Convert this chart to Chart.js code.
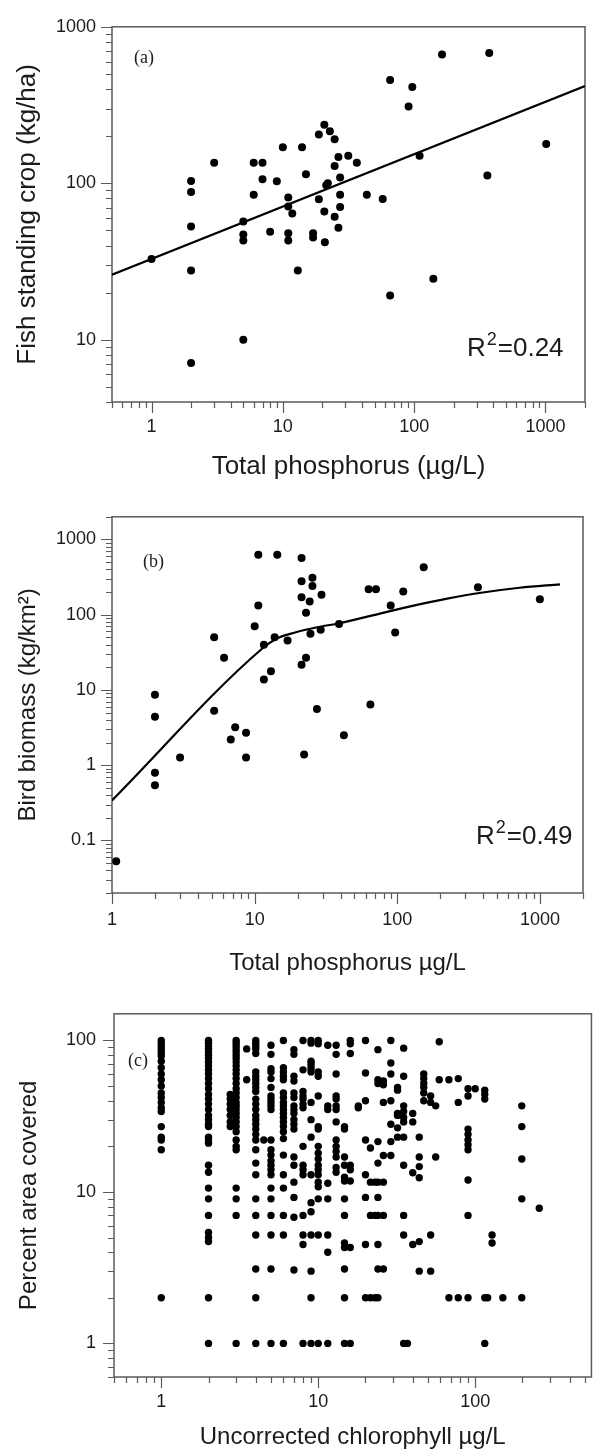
<!DOCTYPE html>
<html><head><meta charset="utf-8">
<script src="https://cdn.jsdelivr.net/npm/chart.js@4.4.0/dist/chart.umd.min.js"></script>
<style>
html,body{margin:0;padding:0;background:#fff;width:599px;height:1450px;overflow:hidden}
canvas{position:absolute;left:0}
</style></head><body>
<canvas id="ca" width="599" height="490" style="top:0px"></canvas>
<canvas id="cb" width="599" height="495" style="top:490px"></canvas>
<canvas id="cc" width="599" height="465" style="top:985px"></canvas>
<script>
// ---------- Panel (a): fish standing crop vs total phosphorus ----------
const aPhosphorus = [1, 2,2,2,2,2, 3, 5,5,5,5, 6,6, 7,7, 8, 9, 10, 11,11,11,11, 11.8, 13, 14, 15, 17,17, 18.8,18.8, 20.7,20.7,20.9, 21.4,22, 22.8, 24.8,24.8,24.8, 26.5,26.5, 27.3,27.3,27.3, 31.5, 36.6, 43.6, 57.6, 65.6,65.6, 90.7, 96.8, 110, 140, 163, 361, 373, 1013];
const aFishCrop   = [32.8, 103.5,88,53,27.7,7.1, 135, 57,47,43,10, 135,84.5, 135,106, 49, 103, 170, 81,71,48,43, 64, 27.7, 170, 114, 48,45, 205,79, 237,66,42, 97,100, 215, 191,129,61, 147,52, 109,84.5,70.5, 150, 135, 84.5, 79.4, 457,19.2, 309, 412, 150, 24.5, 665, 112, 681, 178];
const aFitX = [0.5, 2000];
const aFitY = [26, 418];
const aXTicks = [1, 10, 100, 1000];
const aXTickLabels = ['1', '10', '100', '1000'];
const aYTicks = [10, 100, 1000];
const aYTickLabels = ['10', '100', '1000'];

// ---------- Panel (b): bird biomass vs total phosphorus ----------
const bPhosphorus = [1.07, 2,2,2,2, 3, 5.2,5.2, 6.1, 6.8, 7.3, 8.7,8.7, 10, 10.6,10.6, 11.6,11.6, 13, 13.8, 14.4, 17, 21.3,21.3,21.3,21.3, 22.2, 22.9,22.9, 24.3, 24.6, 25.4,25.4, 27.3, 29, 29.4, 39, 42.2, 62.9, 64.7, 70.8, 89.8, 96.5, 110, 153, 367, 997];
const bBirdBiomass = [0.053, 8.6,4.4,0.79,0.54, 1.26, 50,5.3, 26.8, 2.2, 3.2, 2.7,1.26, 70, 625,132, 40,13.8, 17.7, 50, 625, 45.5, 566,279,171,21.6, 1.39, 106,26.8, 150, 55.6, 309,240, 5.6, 63, 184, 75, 2.5, 218, 6.4, 218, 132, 58, 203, 428, 231, 161];
const bFitX = [1, 11.2, 14.2, 19.2, 27.4, 39, 67, 121, 219, 397, 719, 1380];
const bFitY = [0.34, 35, 48, 58, 68, 77, 98, 128, 162, 197, 228, 253];
const bXTicks = [1, 10, 100, 1000];
const bXTickLabels = ['1', '10', '100', '1000'];
const bYTicks = [0.1, 1, 10, 100, 1000];
const bYTickLabels = ['0.1', '1', '10', '100', '1000'];

// ---------- Panel (c): percent area covered vs chlorophyll (grouped by chlorophyll value) ----------
const cChlorophyll = [1, 2, 2.75, 3, 3.5, 4, 4.5, 5, 6, 7, 8, 9, 10, 11.5, 13, 14.7, 16, 18, 20, 21.5, 23, 24, 26, 29, 32, 35, 37, 40, 44, 47, 52, 56, 59, 68, 78, 90, 100, 115, 120, 128, 150, 198, 256];
const cPercentCover = [
  [100, 95, 91, 87, 83, 79, 73, 66, 60, 55, 50, 45, 42, 39, 36, 34, 27, 23, 22, 19, 2],
  [100, 96, 92, 88, 84, 80, 76, 72, 68, 64, 60, 56, 52, 48, 44, 41, 38, 35, 32, 30, 28, 27, 23, 22, 21, 15, 13.5, 10.6, 9, 7, 5.4, 5, 4.7, 2, 1],
  [44, 41, 38, 35, 32, 29, 27],
  [100, 96, 92, 88, 84, 80, 76, 72, 68, 64, 60, 56, 52, 48, 45, 42, 39, 37, 35, 33, 31, 29, 27, 25, 22, 20, 19, 10.6, 9, 7, 1],
  [88, 55],
  [100, 96, 92, 88, 82, 62, 58, 55, 52, 49, 46, 41, 38, 35, 32, 30, 28, 26, 24, 22, 19, 15.5, 13, 9, 7, 5.2, 3.1, 2, 1],
  [22],
  [93, 81, 65, 62, 56, 49, 43, 41, 39, 37, 35, 22, 19, 17.5, 16, 15, 14, 13, 10.6, 9, 7, 5.2, 3.1, 1],
  [100, 66, 62, 58, 55, 45, 42, 39, 37, 35, 33, 31, 29, 27, 25, 22.5, 17.5, 13, 10.6, 7, 5.2, 1],
  [87, 81, 58, 54, 45, 42, 37, 35, 33, 30, 28, 26, 17, 15, 11.6, 9.2, 6.8, 3.05],
  [100, 64, 46, 43, 41, 38, 36, 20, 15, 14, 13, 7, 5.2, 4.5, 1],
  [100, 96, 73, 71, 68, 65, 62, 39, 30, 23, 13, 8.5, 7.4, 5.2, 3, 2, 1],
  [100, 95, 62, 58, 43, 27, 26, 20, 18, 16.5, 15, 14, 13, 11.6, 10.8, 9, 5.2, 1],
  [93, 37, 35, 11.4, 9, 5.2, 4, 1],
  [93, 81, 60, 43, 41, 37, 35, 29, 22, 20, 18.5, 17, 14.5, 13.5],
  [27, 26, 17, 15, 12.5, 11.8, 9, 7, 4.6, 4.3, 3.1, 2, 1],
  [100, 95, 82, 15, 14, 11.8, 4.3, 1],
  [37, 36],
  [100, 61, 40, 22, 13, 9.2, 4.5, 2],
  [19.5, 11.6, 7, 2],
  [11.6, 7, 2],
  [87, 55, 52, 21.5, 15.5, 11.6, 9.2, 7, 4.5, 3.1, 2],
  [54, 51, 39, 17.4, 11.6, 7, 3.1],
  [100, 71, 60, 40, 28, 21.5, 17.4],
  [49, 47, 33, 32, 26.5, 23],
  [89, 58, 37, 34, 31, 29, 23, 15, 7, 5.2, 1],
  [1],
  [33, 29, 13.4, 4.5],
  [23, 17, 14.7, 12.4, 4.7, 3],
  [60, 56, 52, 49, 45, 40],
  [43, 39, 5.2, 3],
  [37, 17],
  [98, 55],
  [55, 2],
  [56, 39, 2],
  [48, 43, 26, 24, 22, 20.5, 19, 12, 7, 2],
  [48],
  [47, 44, 41, 2, 1],
  [2],
  [5.2, 4.6],
  [2],
  [37, 27, 16.5, 9, 2],
  [7.8]
];
const cXTicks = [1, 10, 100];
const cXTickLabels = ['1', '10', '100'];
const cYTicks = [1, 10, 100];
const cYTickLabels = ['1', '10', '100'];

const panelLabels = ['(a)', '(b)', '(c)'];
const r2Values = ['0.24', '0.49'];

// ---------- helpers ----------
const SANS = "'Liberation Sans', Arial, Helvetica, sans-serif";
const SERIF = "'Liberation Serif', 'Times New Roman', serif";
const TEXT = '#1b1b1b';
const AXIS = '#5a5a5a';

function pts(xs, ys) { return xs.map((x, i) => ({x: x, y: ys[i]})); }
function logTicks(min, max) {
  const out = [];
  for (let d = Math.floor(Math.log10(min)); d <= Math.ceil(Math.log10(max)); d++) {
    for (let k = 1; k <= 9; k++) {
      const v = k * Math.pow(10, d);
      if (v >= min * (1 - 1e-9) && v <= max * (1 + 1e-9)) out.push(v);
    }
  }
  return out;
}
function isDecade(v) { const l = Math.log10(v); return Math.abs(l - Math.round(l)) < 1e-9; }
function labelFor(v, majors, labels) {
  for (let i = 0; i < majors.length; i++) if (Math.abs(v - majors[i]) / majors[i] < 1e-6) return labels[i];
  return '';
}

const decoPlugin = {
  id: 'deco',
  beforeDatasetsDraw(chart) {
    const {ctx, chartArea: a} = chart;
    ctx.save();
    ctx.strokeStyle = AXIS; ctx.lineWidth = 1.5;
    ctx.strokeRect(a.left, a.top, a.right - a.left, a.bottom - a.top);
    const xs = chart.scales.x, ys = chart.scales.y;
    ctx.lineWidth = 1.2;
    ctx.beginPath();
    xs.ticks.forEach(t => {
      const p = Math.round(xs.getPixelForValue(t.value)) + 0.5;
      const L = isDecade(t.value) ? 11 : 6;
      ctx.moveTo(p, a.bottom); ctx.lineTo(p, a.bottom + L);
    });
    ys.ticks.forEach(t => {
      const p = Math.round(ys.getPixelForValue(t.value)) + 0.5;
      const L = isDecade(t.value) ? 11 : 6;
      ctx.moveTo(a.left, p); ctx.lineTo(a.left - L, p);
    });
    ctx.stroke();
    ctx.restore();
  },
  afterDraw(chart, args, opts) {
    const ctx = chart.ctx;
    ctx.save();
    ctx.fillStyle = TEXT;
    ctx.textAlign = 'left';
    ctx.textBaseline = 'alphabetic';
    if (opts.label) {
      ctx.font = `18px ${SERIF}`;
      ctx.fillText(opts.label.text, opts.label.x, opts.label.y);
    }
    if (opts.r2) {
      const {x, y, text} = opts.r2;
      ctx.font = `26px ${SANS}`;
      ctx.fillText('R', x, y);
      const w = ctx.measureText('R').width;
      ctx.font = `18px ${SANS}`;
      ctx.fillText('2', x + w + 1, y - 11);
      const w2 = ctx.measureText('2').width;
      ctx.font = `26px ${SANS}`;
      ctx.fillText('=' + text, x + w + w2 + 2, y);
    }
    ctx.restore();
  }
};

function makeChart(id, c) {
  const canvas = document.getElementById(id);
  const H = canvas.height;
  return new Chart(canvas, {
    type: 'scatter',
    data: {datasets: c.datasets},
    options: {
      responsive: false,
      animation: false,
      devicePixelRatio: 1,
      layout: {padding: {top: c.top, right: 599 - c.right, bottom: 0, left: 0}},
      plugins: {legend: {display: false}, tooltip: {enabled: false}, deco: c.deco},
      scales: {
        x: {
          type: 'logarithmic', position: 'bottom', min: c.xMin, max: c.xMax,
          afterFit: s => { s.height = H - c.bottom; },
          afterBuildTicks: s => { s.ticks = logTicks(c.xMin, c.xMax).map(v => ({value: v, major: isDecade(v)})); },
          grid: {display: false, drawTicks: false, drawOnChartArea: false},
          border: {display: false},
          ticks: {autoSkip: false, maxRotation: 0, minRotation: 0, padding: c.xTickPad, color: TEXT,
                  font: {family: SANS, size: c.tickSize},
                  callback: v => labelFor(v, c.xMajors, c.xLabels)},
          title: {display: true, text: c.xTitle, color: TEXT,
                  font: {family: SANS, size: c.xTitleSize, lineHeight: 1},
                  padding: {top: 0, bottom: c.xTitlePad}}
        },
        y: {
          type: 'logarithmic', position: 'left', min: c.yMin, max: c.yMax,
          afterFit: s => { s.width = c.left; },
          afterBuildTicks: s => { s.ticks = logTicks(c.yMin, c.yMax).map(v => ({value: v, major: isDecade(v)})); },
          grid: {display: false, drawTicks: false, drawOnChartArea: false},
          border: {display: false},
          ticks: {autoSkip: false, padding: c.yTickPad, color: TEXT,
                  font: {family: SANS, size: c.tickSize},
                  callback: v => labelFor(v, c.yMajors, c.yLabels)},
          title: {display: true, text: c.yTitle, color: TEXT,
                  font: {family: SANS, size: c.yTitleSize, lineHeight: 1},
                  padding: {top: c.yTitlePad, bottom: 0}}
        }
      }
    },
    plugins: [decoPlugin]
  });
}

const dotStyle = (r) => ({type: 'scatter', pointRadius: r, pointHoverRadius: r, backgroundColor: '#000', borderWidth: 0, showLine: false});
const lineStyle = {type: 'line', borderColor: '#000', borderWidth: 2.2, pointRadius: 0, fill: false, showLine: true};

// Panel (a)
makeChart('ca', {
  top: 18, bottom: 402, left: 112, right: 597,
  xMin: 0.5, xMax: 2000, yMin: 4, yMax: 1000,
  xMajors: aXTicks, xLabels: aXTickLabels, yMajors: aYTicks, yLabels: aYTickLabels,
  tickSize: 18, xTitleSize: 26, yTitleSize: 26, xTickPad: 14, yTickPad: 16, xTitlePad: 10, yTitlePad: 15,
  xTitle: 'Total phosphorus (\u00b5g/L)', yTitle: 'Fish standing crop (kg/ha)',
  deco: {label: {text: panelLabels[0], x: 134, y: 63}, r2: {text: r2Values[0], x: 467, y: 356}},
  datasets: [
    Object.assign({data: pts(aFitX, aFitY)}, lineStyle),
    Object.assign({data: pts(aPhosphorus, aFishCrop)}, dotStyle(4))
  ]
});

// Panel (b)
makeChart('cb', {
  top: 22, bottom: 403, left: 112, right: 598,
  xMin: 1, xMax: 2000, yMin: 0.02, yMax: 2000,
  xMajors: bXTicks, xLabels: bXTickLabels, yMajors: bYTicks, yLabels: bYTickLabels,
  tickSize: 18, xTitleSize: 24, yTitleSize: 24, xTickPad: 16, yTickPad: 16, xTitlePad: 10, yTitlePad: 16,
  xTitle: 'Total phosphorus \u00b5g/L', yTitle: 'Bird biomass (kg/km\u00b2)',
  deco: {label: {text: panelLabels[1], x: 143, y: 77}, r2: {text: r2Values[1], x: 476, y: 354}},
  datasets: [
    Object.assign({data: pts(bFitX, bFitY), tension: 0.3, cubicInterpolationMode: 'monotone'}, lineStyle),
    Object.assign({data: pts(bPhosphorus, bBirdBiomass)}, dotStyle(4))
  ]
});

// Panel (c)
const cPoints = [];
cChlorophyll.forEach((x, i) => cPercentCover[i].forEach(y => cPoints.push({x: x, y: y})));
makeChart('cc', {
  top: 10, bottom: 392, left: 114, right: 598,
  xMin: 0.5, xMax: 550, yMin: 0.6, yMax: 150,
  xMajors: cXTicks, xLabels: cXTickLabels, yMajors: cYTicks, yLabels: cYTickLabels,
  tickSize: 18, xTitleSize: 24, yTitleSize: 24, xTickPad: 14, yTickPad: 18, xTitlePad: 1, yTitlePad: 17,
  xTitle: 'Uncorrected chlorophyll \u00b5g/L', yTitle: 'Percent area covered',
  deco: {label: {text: panelLabels[2], x: 128, y: 81}},
  datasets: [
    Object.assign({data: cPoints}, dotStyle(3.7))
  ]
});
</script></body></html>
